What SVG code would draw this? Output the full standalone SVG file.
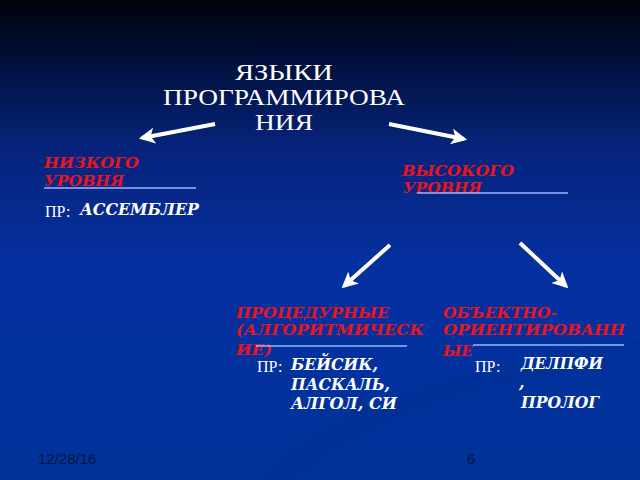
<svg xmlns="http://www.w3.org/2000/svg" width="640" height="480" viewBox="0 0 640 480">
<defs>
<linearGradient id="bg" x1="0" y1="0" x2="0" y2="1">
<stop offset="0" stop-color="#00030c"/>
<stop offset="0.12" stop-color="#000f38"/>
<stop offset="0.3" stop-color="#06237a"/>
<stop offset="0.55" stop-color="#0530a0"/>
<stop offset="1" stop-color="#00339a"/>
</linearGradient>
<marker id="ah" viewBox="0 0 10 10" refX="8" refY="5" markerWidth="4" markerHeight="4" orient="auto" markerUnits="strokeWidth">
<path d="M0,0 L10,5 L0,10 L2.5,5 Z" fill="#ffffff"/>
</marker>
<style>
.title{font-family:"Liberation Serif","Times New Roman",serif;font-size:24px;fill:#ffffff;text-anchor:middle}
.red{font-family:"DejaVu Serif","Liberation Serif",serif;font-weight:bold;font-style:italic;font-size:15px;fill:#e8141e}
.ex{font-family:"DejaVu Serif","Liberation Serif",serif;font-weight:bold;font-style:italic;font-size:16px;fill:#ffffff}
.pr{font-family:"Liberation Serif","Times New Roman",serif;font-size:16px;fill:#ffffff}
.ul{stroke:#9db4ff;stroke-width:1.5}
.arr{stroke:#ffffff;stroke-width:4;fill:none;marker-end:url(#ah)}
.foot{font-family:"Liberation Sans",Arial,sans-serif;font-size:15px;fill:#061440}
</style>
</defs>
<rect width="640" height="480" fill="url(#bg)"/>
<path d="M250,480 C330,400 480,360 640,340 L640,360 C500,380 360,420 300,480 Z" fill="#002f94" opacity="0.5"/>

<g id="title">
<text class="title" x="284" y="80" textLength="98" lengthAdjust="spacingAndGlyphs">ЯЗЫКИ</text>
<text class="title" x="284" y="105" textLength="242" lengthAdjust="spacingAndGlyphs">ПРОГРАММИРОВА</text>
<text class="title" x="284" y="130" textLength="58" lengthAdjust="spacingAndGlyphs">НИЯ</text>
</g>

<g id="low">
<text class="red" x="44" y="168" textLength="95" lengthAdjust="spacingAndGlyphs">НИЗКОГО</text>
<text class="red" x="44" y="186" textLength="80" lengthAdjust="spacingAndGlyphs">УРОВНЯ</text>
<line class="ul" x1="44" y1="188" x2="196" y2="188"/>
<text class="pr" x="45" y="217">ПР:</text>
<text class="ex" x="80" y="215" textLength="119" lengthAdjust="spacingAndGlyphs">АССЕМБЛЕР</text>
</g>

<g id="high">
<text class="red" x="402" y="176" textLength="112" lengthAdjust="spacingAndGlyphs">ВЫСОКОГО</text>
<text class="red" x="403" y="193" textLength="79" lengthAdjust="spacingAndGlyphs">УРОВНЯ</text>
<line class="ul" x1="417" y1="193" x2="568" y2="193"/>
</g>

<g id="proc">
<text class="red" x="236" y="318" textLength="153" lengthAdjust="spacingAndGlyphs">ПРОЦЕДУРНЫЕ</text>
<text class="red" x="236" y="335" textLength="188" lengthAdjust="spacingAndGlyphs">(АЛГОРИТМИЧЕСК</text>
<text class="red" x="236" y="355" textLength="36" lengthAdjust="spacingAndGlyphs">ИЕ)</text>
<line class="ul" x1="256" y1="346" x2="407" y2="346"/>
<text class="pr" x="257" y="372">ПР:</text>
<text class="ex" x="291" y="370" textLength="87" lengthAdjust="spacingAndGlyphs">БЕЙСИК,</text>
<text class="ex" x="291" y="390" textLength="99" lengthAdjust="spacingAndGlyphs">ПАСКАЛЬ,</text>
<text class="ex" x="291" y="409" textLength="106" lengthAdjust="spacingAndGlyphs">АЛГОЛ, СИ</text>
</g>

<g id="oop">
<text class="red" x="443" y="318" textLength="114" lengthAdjust="spacingAndGlyphs">ОБЪЕКТНО-</text>
<text class="red" x="443" y="335" textLength="182" lengthAdjust="spacingAndGlyphs">ОРИЕНТИРОВАНН</text>
<text class="red" x="443" y="356" textLength="30" lengthAdjust="spacingAndGlyphs">ЫЕ</text>
<line class="ul" x1="473" y1="345" x2="624" y2="345"/>
<text class="pr" x="475" y="372">ПР:</text>
<text class="ex" x="521" y="369" textLength="82" lengthAdjust="spacingAndGlyphs">ДЕЛПФИ</text>
<text class="ex" x="519" y="388">,</text>
<text class="ex" x="521" y="408" textLength="78" lengthAdjust="spacingAndGlyphs">ПРОЛОГ</text>
</g>

<g id="connectors">
<line class="arr" x1="215" y1="124" x2="142" y2="138"/>
<line class="arr" x1="389" y1="124" x2="464" y2="139"/>
<line class="arr" x1="390" y1="245" x2="344" y2="286"/>
<line class="arr" x1="520" y1="243" x2="566" y2="286"/>
</g>

<g id="footer">
<text class="foot" x="38" y="464">12/28/16</text>
<text class="foot" x="467" y="464">6</text>
</g>
</svg>
